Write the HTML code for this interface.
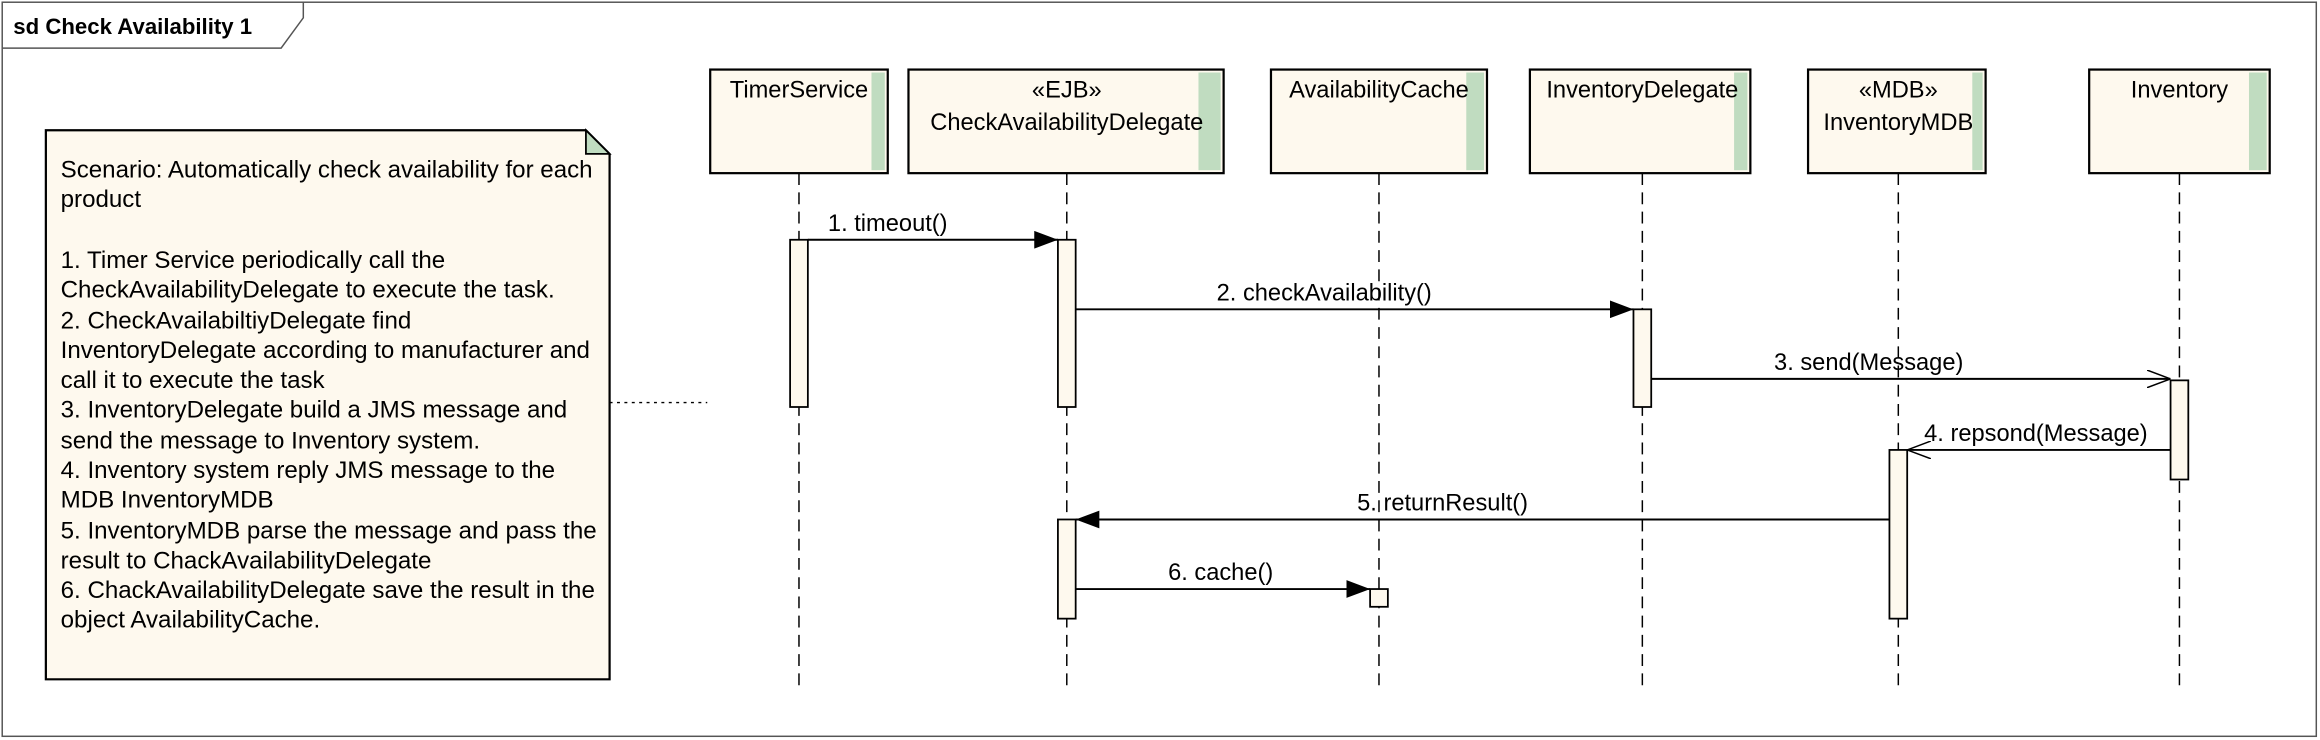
<!DOCTYPE html>
<html><head><meta charset="utf-8"><style>
html,body{margin:0;padding:0;background:#fff;}
svg{display:block;}
text{font-family:"Liberation Sans",Arial,sans-serif;fill:#000;}
</style></head><body>
<svg width="2320" height="740" viewBox="0 0 1568 500" xmlns="http://www.w3.org/2000/svg" preserveAspectRatio="none">
<defs>
<marker id="f" markerWidth="16" markerHeight="12" refX="16" refY="6" orient="auto" markerUnits="userSpaceOnUse"><path d="M0,0 L16,6 L0,12 Z" fill="#000"/></marker>
<marker id="o" markerWidth="16" markerHeight="12" refX="16" refY="6" orient="auto" markerUnits="userSpaceOnUse"><path d="M0,0 L16,6 L0,12" fill="none" stroke="#000" stroke-width="1"/></marker>
</defs>
<rect x="0" y="0" width="1568" height="500" fill="#fff"/>
<rect x="1.5" y="1.5" width="1564" height="496" fill="none" stroke="#555" stroke-width="1"/>
<path d="M1.5,32.5 H190 L205,12 V1.5" fill="none" stroke="#555" stroke-width="1"/>
<text x="9" y="23" font-size="15" font-weight="bold">sd Check Availability 1</text>

<g stroke="#000" stroke-width="1" stroke-dasharray="8,5">
<line x1="540" y1="117" x2="540" y2="466"/>
<line x1="721" y1="117" x2="721" y2="466"/>
<line x1="932" y1="117" x2="932" y2="466"/>
<line x1="1110" y1="117" x2="1110" y2="466"/>
<line x1="1283" y1="117" x2="1283" y2="466"/>
<line x1="1473" y1="117" x2="1473" y2="466"/>
</g>

<g stroke="#000" stroke-width="1.5">
<rect x="480" y="47" width="120" height="70" fill="#fef9ee"/>
<rect x="614" y="47" width="213" height="70" fill="#fef9ee"/>
<rect x="859" y="47" width="146" height="70" fill="#fef9ee"/>
<rect x="1034" y="47" width="149" height="70" fill="#fef9ee"/>
<rect x="1222" y="47" width="120" height="70" fill="#fef9ee"/>
<rect x="1412" y="47" width="122" height="70" fill="#fef9ee"/>
</g>
<g fill="#c0dcc0">
<rect x="589" y="49" width="9" height="66"/>
<rect x="810" y="49" width="15" height="66"/>
<rect x="991" y="49" width="12" height="66"/>
<rect x="1172" y="49" width="9" height="66"/>
<rect x="1333" y="49" width="7" height="66"/>
<rect x="1520" y="49" width="12" height="66"/>
</g>
<g font-size="16" text-anchor="middle">
<text x="540" y="66">TimerService</text>
<text x="721" y="66">«EJB»</text>
<text x="721" y="88">CheckAvailabilityDelegate</text>
<text x="932" y="66">AvailabilityCache</text>
<text x="1110" y="66">InventoryDelegate</text>
<text x="1283" y="66">«MDB»</text>
<text x="1283" y="88">InventoryMDB</text>
<text x="1473" y="66">Inventory</text>
</g>

<g fill="#fef9ee" stroke="#000" stroke-width="1.2">
<rect x="534" y="162" width="12" height="113"/>
<rect x="715" y="162" width="12" height="113"/>
<rect x="1104" y="209" width="12" height="66"/>
<rect x="1467" y="257" width="12" height="67"/>
<rect x="1277" y="304" width="12" height="114"/>
<rect x="715" y="351" width="12" height="67"/>
<rect x="926" y="398" width="12" height="12"/>
</g>

<g stroke="#000" stroke-width="1.3" fill="none">
<line x1="546" y1="162" x2="715" y2="162" marker-end="url(#f)"/>
<line x1="727" y1="209" x2="1104" y2="209" marker-end="url(#f)"/>
<line x1="1116" y1="256" x2="1467" y2="256" marker-end="url(#o)"/>
<line x1="1467" y1="304" x2="1289" y2="304" marker-end="url(#o)"/>
<line x1="1277" y1="351" x2="727" y2="351" marker-end="url(#f)"/>
<line x1="727" y1="398" x2="926" y2="398" marker-end="url(#f)"/>
</g>
<g font-size="16" text-anchor="middle">
<text x="600" y="156">1. timeout()</text>
<text x="895" y="203">2. checkAvailability()</text>
<text x="1263" y="250">3. send(Message)</text>
<text x="1376" y="298">4. repsond(Message)</text>
<text x="975" y="345">5. returnResult()</text>
<text x="825" y="392">6. cache()</text>
</g>

<path d="M31,88 H396 L412,104 V459 H31 Z" fill="#fef9ee" stroke="#000" stroke-width="1.5"/>
<path d="M396,88 V104 H412 Z" fill="#c0dcc0" stroke="#000" stroke-width="1.2"/>
<line x1="412" y1="272" x2="478" y2="272" stroke="#000" stroke-width="1" stroke-dasharray="2,3"/>
<g font-size="16.3">
<text x="41" y="120">Scenario: Automatically check availability for each</text>
<text x="41" y="140">product</text>
<text x="41" y="181">1. Timer Service periodically call the</text>
<text x="41" y="201">CheckAvailabilityDelegate to execute the task.</text>
<text x="41" y="222">2. CheckAvailabiltiyDelegate find</text>
<text x="41" y="242">InventoryDelegate according to manufacturer and</text>
<text x="41" y="262">call it to execute the task</text>
<text x="41" y="282">3. InventoryDelegate build a JMS message and</text>
<text x="41" y="303">send the message to Inventory system.</text>
<text x="41" y="323">4. Inventory system reply JMS message to the</text>
<text x="41" y="343">MDB InventoryMDB</text>
<text x="41" y="364">5. InventoryMDB parse the message and pass the</text>
<text x="41" y="384">result to ChackAvailabilityDelegate</text>
<text x="41" y="404">6. ChackAvailabilityDelegate save the result in the</text>
<text x="41" y="424">object AvailabilityCache.</text>
</g>
</svg>
</body></html>
